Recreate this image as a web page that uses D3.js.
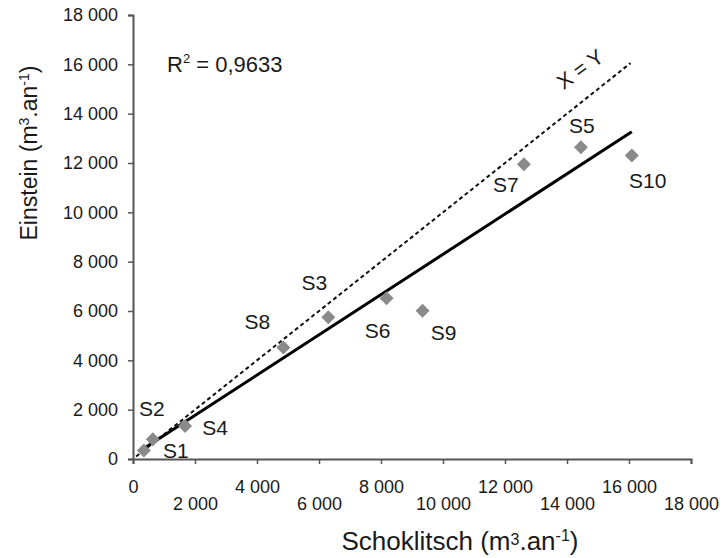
<!DOCTYPE html>
<html>
<head>
<meta charset="utf-8">
<script src="https://cdn.jsdelivr.net/npm/d3@7"></script>
<style>
  html, body { margin: 0; padding: 0; background: #fff; }
  text { font-family: "Liberation Sans", Arial, sans-serif; fill: #1a1a1a; }
</style>
</head>
<body>
<svg id="chart" width="725" height="558"></svg>
<script>
// ---- data ----
const stations = ["S1", "S2", "S4", "S8", "S3", "S6", "S9", "S7", "S5", "S10"];
const schoklitsch = [350, 640, 1680, 4850, 6300, 8180, 9340, 12610, 14450, 16090];
const einstein    = [340, 800, 1340, 4520, 5750, 6520, 6010, 11950, 12640, 12300];
const xTicks = [0, 2000, 4000, 6000, 8000, 10000, 12000, 14000, 16000, 18000];
const yTicks = [0, 2000, 4000, 6000, 8000, 10000, 12000, 14000, 16000, 18000];
const identityRange = [100, 16050];
const r2Text = "0,9633";

// label offsets (layout only, px)
const labelOffsets = {
  S1: [32, 0], S2: [-1, -31], S4: [30, 2], S8: [-26, -26], S3: [-14, -35],
  S6: [-9, 32], S9: [21, 22], S7: [-18, 20], S5: [1, -22], S10: [16, 25]
};

const svg = d3.select("#chart");
const x = d3.scaleLinear().domain([0, 18000]).range([133, 691]);
const y = d3.scaleLinear().domain([0, 18000]).range([459, 15]);
const fmt = v => d3.format(",")(v).replace(/,/g, " ");
const axisColor = "#555";
const FONT = "'Liberation Sans', Arial, sans-serif";

// y axis
const yAxis = svg.append("g").attr("transform", `translate(${x(0)},0)`)
  .call(d3.axisLeft(y).tickValues(yTicks).tickSize(5).tickPadding(10).tickFormat(fmt));
yAxis.select(".domain").attr("stroke", axisColor).attr("stroke-width", 2);
yAxis.selectAll(".tick line").attr("stroke", axisColor).attr("stroke-width", 1.5);
yAxis.selectAll(".tick text").style("font-size", "18px").attr("fill", "#1a1a1a")
  .style("font-family", FONT);

// x axis
const xAxis = svg.append("g").attr("transform", `translate(0,${y(0)})`)
  .call(d3.axisBottom(x).tickValues(xTicks).tickSize(5).tickSizeOuter(5).tickFormat(fmt));
xAxis.select(".domain").attr("stroke", axisColor).attr("stroke-width", 2);
xAxis.selectAll(".tick line").attr("stroke", axisColor).attr("stroke-width", 1.5);
xAxis.selectAll(".tick text")
  .style("font-size", "18px").attr("fill", "#1a1a1a")
  .style("font-family", FONT)
  .attr("dy", null)
  .attr("y", (d, i) => i % 2 === 0 ? 34 : 51);

// identity line X = Y
svg.append("line")
  .attr("x1", x(identityRange[0])).attr("y1", y(identityRange[0]))
  .attr("x2", x(identityRange[1])).attr("y2", y(identityRange[1]))
  .attr("stroke", "#111").attr("stroke-width", 2).attr("stroke-dasharray", "4,3");

// regression line computed from data
const mx = d3.mean(schoklitsch), my = d3.mean(einstein);
let sxy = 0, sxx = 0;
schoklitsch.forEach((v, i) => { sxy += (v - mx) * (einstein[i] - my); sxx += (v - mx) ** 2; });
const slope = sxy / sxx, intercept = my - slope * mx;
const x0 = d3.min(schoklitsch), x1 = d3.max(schoklitsch);
svg.append("line")
  .attr("x1", x(x0)).attr("y1", y(slope * x0 + intercept))
  .attr("x2", x(x1)).attr("y2", y(slope * x1 + intercept))
  .attr("stroke", "#000").attr("stroke-width", 3);

// points
const pts = stations.map((s, i) => ({ s, xv: schoklitsch[i], yv: einstein[i] }));
svg.append("g").selectAll("path").data(pts).join("path")
  .attr("d", d3.symbol().type(d3.symbolSquare).size(98))
  .attr("transform", d => `translate(${x(d.xv)},${y(d.yv)}) rotate(45)`)
  .attr("fill", "#8a8a8a");

// point labels
svg.append("g").selectAll("text").data(pts).join("text")
  .attr("x", d => x(d.xv) + labelOffsets[d.s][0])
  .attr("y", d => y(d.yv) + labelOffsets[d.s][1])
  .attr("text-anchor", "middle").attr("dominant-baseline", "central")
  .style("font-size", "21px")
  .text(d => d.s);

// R² label
const r2 = svg.append("text").attr("x", 167).attr("y", 72).style("font-size", "22px");
r2.append("tspan").text("R");
r2.append("tspan").attr("dy", -9).style("font-size", "13px").text("2");
r2.append("tspan").attr("dy", 9).text(" = " + r2Text);

// X = Y label
svg.append("text")
  .attr("transform", `translate(580,69) rotate(-36)`)
  .attr("text-anchor", "middle").attr("dominant-baseline", "central")
  .style("font-size", "21px").text("X = Y");

// axis titles
const xt = svg.append("text").attr("x", 460).attr("y", 550)
  .attr("text-anchor", "middle").style("font-size", "26px");
xt.append("tspan").text("Schoklitsch (m");
xt.append("tspan").attr("dy", -5).style("font-size", "16px").text("3");
xt.append("tspan").attr("dy", 5).text(".an");
xt.append("tspan").attr("dy", -9).style("font-size", "16px").text("-1");
xt.append("tspan").attr("dy", 9).text(")");

const yt = svg.append("text")
  .attr("transform", "translate(37,153) rotate(-90)")
  .attr("text-anchor", "middle").style("font-size", "23px");
yt.append("tspan").text("Einstein (m");
yt.append("tspan").attr("dy", -8).style("font-size", "14px").text("3");
yt.append("tspan").attr("dy", 8).text(".an");
yt.append("tspan").attr("dy", -8).style("font-size", "14px").text("-1");
yt.append("tspan").attr("dy", 8).text(")");
</script>
</body>
</html>
